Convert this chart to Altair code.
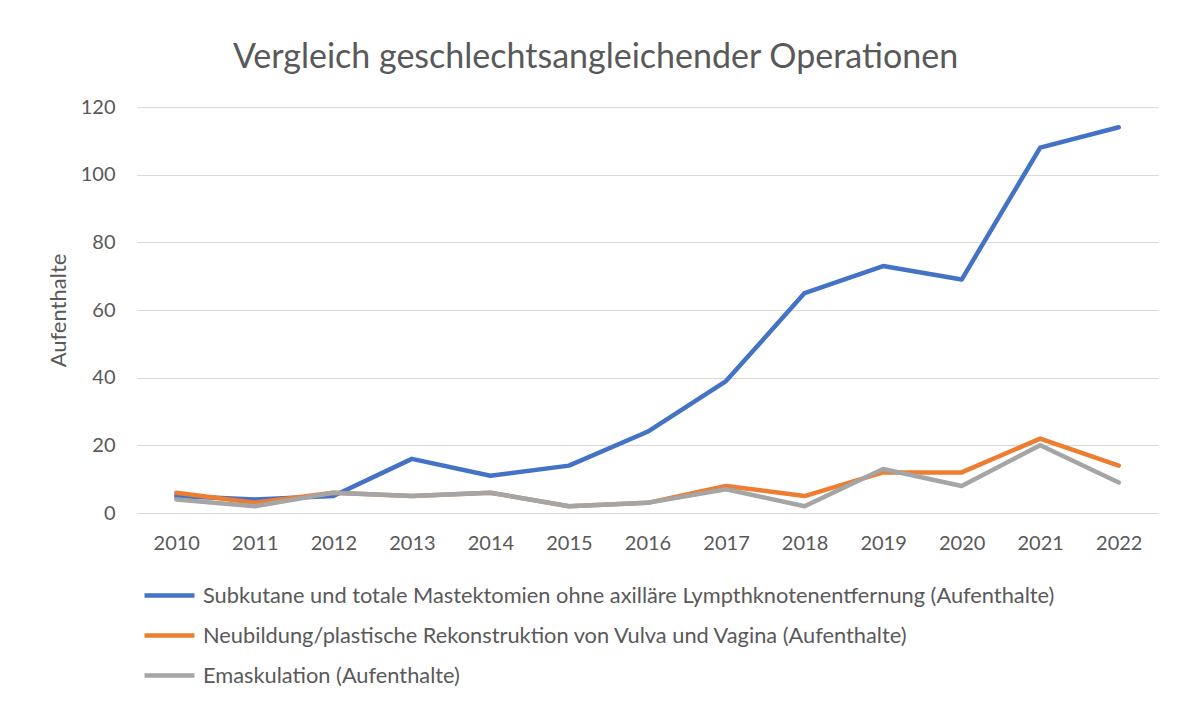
import altair as alt
import pandas as pd

years = [str(y) for y in range(2010, 2023)]
series_names = [
    "Subkutane und totale Mastektomien ohne axilläre Lympthknotenentfernung (Aufenthalte)",
    "Neubildung/plastische Rekonstruktion von Vulva und Vagina (Aufenthalte)",
    "Emaskulation (Aufenthalte)",
]
mastektomie = [5, 4, 5, 16, 11, 14, 24, 39, 65, 73, 69, 108, 114]
vulva_vagina = [6, 3, 6, 5, 6, 2, 3, 8, 5, 12, 12, 22, 14]
emaskulation = [4, 2, 6, 5, 6, 2, 3, 7, 2, 13, 8, 20, 9]
colors = ["#4472C4", "#ED7D31", "#A5A5A5"]

rows = []
for name, vals in zip(series_names, [mastektomie, vulva_vagina, emaskulation]):
    for y, v in zip(years, vals):
        rows.append({"Jahr": y, "Serie": name, "Wert": v})
df = pd.DataFrame(rows)

FONT = "Lato"
TXT = "#595959"

chart = (
    alt.Chart(df)
    .mark_line(strokeWidth=4.5, strokeCap="round", strokeJoin="round")
    .encode(
        x=alt.X(
            "Jahr:O",
            sort=years,
            scale=alt.Scale(type="point", padding=0.5),
            axis=alt.Axis(
                title=None, labelAngle=0, ticks=False, grid=False,
                domainColor="#D9D9D9", domainWidth=1.2,
                labelFont=FONT, labelFontSize=20, labelColor=TXT, labelPadding=20,
            ),
        ),
        y=alt.Y(
            "Wert:Q",
            scale=alt.Scale(domain=[0, 120]),
            axis=alt.Axis(
                title="Aufenthalte", values=[0, 20, 40, 60, 80, 100, 120],
                ticks=False, domain=False, gridColor="#D9D9D9", gridWidth=1.2,
                labelFont=FONT, labelFontSize=20, labelColor=TXT, labelPadding=22,
                titleFont=FONT, titleFontSize=22, titleFontWeight="normal", titleColor=TXT,
                titleX=-79, titleY=203, titleAngle=-90, titleAlign="center", titleBaseline="middle",
            ),
        ),
        color=alt.Color(
            "Serie:N",
            sort=series_names,
            scale=alt.Scale(domain=series_names, range=colors),
            legend=alt.Legend(
                title=None, orient="none", legendX=5, legendY=461, direction="vertical",
                symbolType="stroke", symbolSize=2500, symbolStrokeWidth=4.5,
                labelFont=FONT, labelFontSize=21.8, labelColor=TXT, labelOffset=6,
                rowPadding=-1, labelLimit=1000,
            ),
        ),
        order=alt.Order("Jahr:O"),
    )
    .properties(
        width=1021,
        height=406,
        autosize=alt.AutoSizeParams(type="none"),
        padding={"left": 129, "top": 99, "right": 17, "bottom": 188},
        title=alt.TitleParams(
            "Vergleich geschlechtsangleichender Operationen",
            font=FONT, fontSize=34, fontWeight="normal", color=TXT,
            anchor="middle", dx=-52, dy=33, offset=28, baseline="alphabetic",
        ),
    )
    .configure_view(stroke=None)
)

chart.save("out.html", embed_options={"renderer": "svg", "actions": False})
